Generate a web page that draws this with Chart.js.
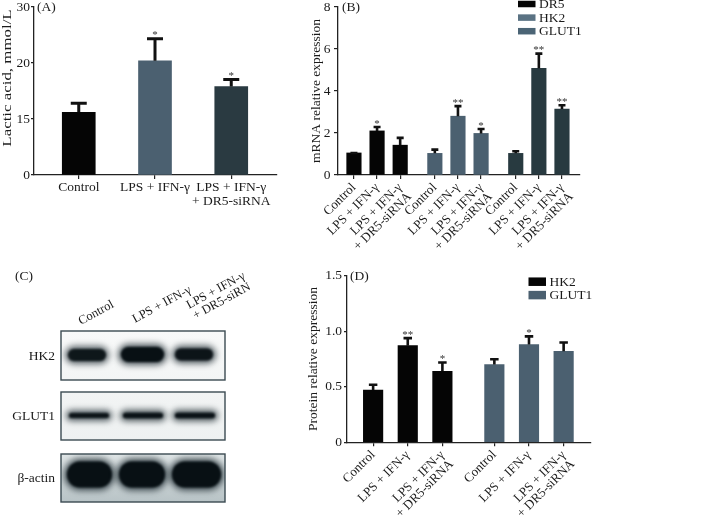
<!DOCTYPE html>
<html>
<head>
<meta charset="utf-8">
<script src="https://cdn.jsdelivr.net/npm/chart.js@4.4.1/dist/chart.umd.min.js"></script>
<style>
html, body { margin: 0; padding: 0; background: #fff; }
#wrap { position: relative; width: 708px; height: 523px; overflow: hidden; }
#wrap canvas { position: absolute; left: 0; top: 0; }
</style>
</head>
<body>
<div id="wrap">
  <canvas id="blot" width="708" height="523"></canvas>
  <canvas id="chartA" width="708" height="523"></canvas>
  <canvas id="chartB" width="708" height="523"></canvas>
  <canvas id="chartD" width="708" height="523"></canvas>
</div>
<script>
// ---- data ----
const groupLabels = ['Control', 'LPS + IFN-γ', ['LPS + IFN-γ', '+ DR5-siRNA']];

// (A) lactic acid, mmol/L (axis is drawn with equal steps between 0, 15, 20, 30)
const lacticMean = [15.6, 20.4, 17.9];
const lacticErr = [0.93, 4.2, 0.75];
const lacticStars = ['', '*', '*'];
const lacticTicks = [0, 15, 20, 30];

// (B) mRNA relative expression
const mrnaGenes = ['DR5', 'HK2', 'GLUT1'];
const dr5Mrna = [1.05, 2.10, 1.42];
const dr5MrnaErr = [0.06, 0.25, 0.41];
const dr5MrnaStars = ['', '*', ''];
const hk2Mrna = [1.03, 2.80, 1.98];
const hk2MrnaErr = [0.24, 0.54, 0.27];
const hk2MrnaStars = ['', '**', '*'];
const glut1Mrna = [1.03, 5.08, 3.14];
const glut1MrnaErr = [0.16, 0.76, 0.24];
const glut1MrnaStars = ['', '**', '**'];

// (D) protein relative expression
const proteinGenes = ['HK2', 'GLUT1'];
const hk2Protein = [0.47, 0.87, 0.64];
const hk2ProteinErr = [0.06, 0.08, 0.09];
const hk2ProteinStars = ['', '**', '*'];
const glut1Protein = [0.70, 0.88, 0.82];
const glut1ProteinErr = [0.06, 0.085, 0.09];
const glut1ProteinStars = ['', '*', ''];

// (C) western blot rows
const blotRows = ['HK2', 'GLUT1', 'β-actin'];

// ---- shared look ----
const INK = '#1a1a1a';
const SERIF = '"Liberation Serif", "Times New Roman", serif';
Chart.defaults.font.family = SERIF;
Chart.defaults.font.size = 13.5;
Chart.defaults.color = INK;
Chart.defaults.animation = false;
Chart.defaults.responsive = false;

// bars inside a group sit 1 apart, groups are 3.5 apart
const groupPos = (g, i) => g * 3.5 + i;

// lactic acid axis: equal spacing between the printed ticks
class SegmentScale extends Chart.LinearScale {
  getPixelForValue(value) {
    if (value === null || isNaN(value)) return NaN;
    const t = lacticTicks;
    let k = 0;
    while (k < t.length - 2 && value > t[k + 1]) k++;
    const d = (k + (value - t[k]) / (t[k + 1] - t[k])) / (t.length - 1);
    return this.getPixelForDecimal(d);
  }
}
SegmentScale.id = 'segment';
SegmentScale.defaults = Chart.LinearScale.defaults;
Chart.register(SegmentScale);

// error bars, stars, axis title, panel letter, legend
const extras = {
  id: 'extras',
  afterDatasetsDraw(chart, args, o) {
    const ctx = chart.ctx, ys = chart.scales.y;
    ctx.save();
    ctx.strokeStyle = '#111';
    ctx.lineWidth = o.errW;
    ctx.fillStyle = '#333';
    ctx.font = '11px ' + SERIF;
    ctx.textAlign = 'center';
    ctx.textBaseline = 'alphabetic';
    chart.data.datasets.forEach((ds, di) => {
      chart.getDatasetMeta(di).data.forEach((bar, i) => {
        const top = ys.getPixelForValue(ds.data[i].y + ds.errors[i]);
        const yc = top + o.errW / 2;
        ctx.beginPath();
        ctx.moveTo(bar.x, bar.y);
        ctx.lineTo(bar.x, yc);
        ctx.moveTo(bar.x - o.capW / 2, yc);
        ctx.lineTo(bar.x + o.capW / 2, yc);
        ctx.stroke();
        if (ds.stars[i]) ctx.fillText(ds.stars[i], bar.x, top + 1);
      });
    });
    ctx.restore();
  },
  afterDraw(chart, args, o) {
    const ctx = chart.ctx;
    ctx.save();
    ctx.fillStyle = INK;
    ctx.font = '13.5px ' + SERIF;
    ctx.textBaseline = 'middle';
    ctx.textAlign = 'left';
    ctx.fillText(o.letter, o.letterX, o.letterY);

    ctx.save();
    ctx.translate(o.titleX, o.titleY);
    ctx.rotate(-Math.PI / 2);
    ctx.scale(o.titleStretch || 1, 1);
    ctx.textAlign = 'center';
    ctx.fillText(o.title, 0, 0);
    ctx.restore();

    if (o.legend) {
      const L = o.legend;
      chart.data.datasets.forEach((ds, i) => {
        const y = L.y + i * L.dy;
        ctx.fillStyle = L.colors[i];
        ctx.fillRect(L.x, y - L.h / 2, L.w, L.h);
        ctx.fillStyle = INK;
        ctx.fillText(ds.label, L.x + L.w + 3.5, y + 0.5);
      });
    }
    ctx.restore();
  }
};

function axisStyle(tickLength) {
  return {
    grid: { display: true, drawOnChartArea: false, drawTicks: true, tickLength: tickLength, color: '#222', lineWidth: 1.2, offset: false },
    border: { display: true, color: '#222', width: 1.3 }
  };
}

function fixWidth(w) {
  return s => { s.width = w; s.paddingTop = 0; s.paddingBottom = 0; };
}
function fixHeight(h) {
  return s => { s.height = h; s.paddingLeft = 0; s.paddingRight = 0; };
}

// ---- (A) ----
new Chart(document.getElementById('chartA'), {
  type: 'bar',
  data: {
    datasets: [{
      label: 'Lactic acid',
      data: lacticMean.map((v, i) => ({ x: i, y: v })),
      errors: lacticErr,
      stars: lacticStars,
      backgroundColor: ['#050505', '#4b6070', '#2a3a41'],
      barThickness: 33
    }]
  },
  options: {
    layout: { padding: { left: 4, top: 7, right: 431, bottom: 308 } },
    plugins: {
      legend: { display: false }, tooltip: { enabled: false },
      extras: { errW: 3, capW: 16, letter: '(A)', letterX: 37, letterY: 7,
                title: 'Lactic acid, mmol/L', titleX: 7, titleY: 78, titleStretch: 1.25 }
    },
    scales: {
      x: Object.assign({
        type: 'linear', min: -0.587, max: 2.6, offset: false,
        afterBuildTicks: s => { s.ticks = groupLabels.map((l, i) => ({ value: i })); },
        afterFit: fixHeight(40),
        ticks: { autoSkip: false, maxRotation: 0, minRotation: 0, padding: 2,
                 font: { size: 13.5, lineHeight: 1.0 },
                 callback: v => groupLabels[v] }
      }, axisStyle(4)),
      y: Object.assign({
        type: 'segment', min: 0, max: 30,
        afterBuildTicks: s => { s.ticks = lacticTicks.map(v => ({ value: v })); },
        afterFit: fixWidth(30),
        ticks: { padding: 1 }
      }, axisStyle(3))
    }
  },
  plugins: [extras]
});

// ---- (B) ----
const bPositions = [];
mrnaGenes.forEach((g, gi) => groupLabels.forEach((l, i) => bPositions.push(groupPos(gi, i))));
const xLabelFor = v => groupLabels[Math.round(v - 3.5 * Math.floor(v / 3.5 + 1e-6))];

function seriesPoints(values, g) {
  return values.map((v, i) => ({ x: groupPos(g, i), y: v }));
}

new Chart(document.getElementById('chartB'), {
  type: 'bar',
  data: {
    datasets: [
      { label: mrnaGenes[0], data: seriesPoints(dr5Mrna, 0), errors: dr5MrnaErr, stars: dr5MrnaStars, backgroundColor: '#050505' },
      { label: mrnaGenes[1], data: seriesPoints(hk2Mrna, 1), errors: hk2MrnaErr, stars: hk2MrnaStars, backgroundColor: '#4b6070' },
      { label: mrnaGenes[2], data: seriesPoints(glut1Mrna, 2), errors: glut1MrnaErr, stars: glut1MrnaStars, backgroundColor: '#283a40' }
    ]
  },
  options: {
    datasets: { bar: { grouped: false, barThickness: 14.5 } },
    layout: { padding: { left: 298, top: 7, right: 128, bottom: 268 } },
    plugins: {
      legend: { display: false }, tooltip: { enabled: false },
      extras: { errW: 2.6, capW: 7, letter: '(B)', letterX: 342, letterY: 7,
                title: 'mRNA relative expression', titleX: 316, titleY: 91,
                legend: { x: 518, y: 4, dy: 13.6, w: 17.5, h: 6.5, colors: ['#050505', '#5a7283', '#4b6475'] } }
    },
    scales: {
      x: Object.assign({
        type: 'linear', min: -0.69, max: 9.78, offset: false,
        afterBuildTicks: s => { s.ticks = bPositions.map(v => ({ value: v })); },
        afterFit: fixHeight(80),
        ticks: { autoSkip: false, maxRotation: 45, minRotation: 45, padding: 2,
                 font: { size: 13, lineHeight: 1.0 }, callback: xLabelFor }
      }, axisStyle(4)),
      y: Object.assign({
        min: 0, max: 8,
        afterFit: fixWidth(40),
        ticks: { stepSize: 2, padding: 3.5 }
      }, axisStyle(4))
    }
  },
  plugins: [extras]
});

// ---- (D) ----
const dPositions = [];
proteinGenes.forEach((g, gi) => groupLabels.forEach((l, i) => dPositions.push(groupPos(gi, i))));

new Chart(document.getElementById('chartD'), {
  type: 'bar',
  data: {
    datasets: [
      { label: proteinGenes[0], data: seriesPoints(hk2Protein, 0), errors: hk2ProteinErr, stars: hk2ProteinStars, backgroundColor: '#050505' },
      { label: proteinGenes[1], data: seriesPoints(glut1Protein, 1), errors: glut1ProteinErr, stars: glut1ProteinStars, backgroundColor: '#4b6070' }
    ]
  },
  options: {
    datasets: { bar: { grouped: false, barThickness: 19.5 } },
    layout: { padding: { left: 307, top: 275.7, right: 117, bottom: 5.7 } },
    plugins: {
      legend: { display: false }, tooltip: { enabled: false },
      extras: { errW: 2.6, capW: 8.5, letter: '(D)', letterX: 350, letterY: 276.5,
                title: 'Protein relative expression', titleX: 313, titleY: 359,
                legend: { x: 528.5, y: 281.7, dy: 13.4, w: 17.5, h: 8.5, colors: ['#050505', '#4b6070'] } }
    },
    scales: {
      x: Object.assign({
        type: 'linear', min: -0.754, max: 6.29, offset: false,
        afterBuildTicks: s => { s.ticks = dPositions.map(v => ({ value: v })); },
        afterFit: fixHeight(75),
        ticks: { autoSkip: false, maxRotation: 45, minRotation: 45, padding: 2,
                 font: { size: 13, lineHeight: 1.0 }, callback: xLabelFor }
      }, axisStyle(4)),
      y: Object.assign({
        min: 0, max: 1.5,
        afterFit: fixWidth(40),
        ticks: { stepSize: 0.5, padding: 2, callback: v => (v === 0 ? '0' : v.toFixed(1)) }
      }, axisStyle(3))
    }
  },
  plugins: [extras]
});

// ---- (C) western blot picture ----
(function drawBlot() {
  const c = document.getElementById('blot').getContext('2d');
  c.save();
  c.beginPath();
  c.rect(0, 262, 250, 261);
  c.clip();

  c.fillStyle = INK;
  c.font = '13.5px ' + SERIF;
  c.textBaseline = 'middle';
  c.fillText('(C)', 15, 276.5);

  // lane headers
  c.font = '12.5px ' + SERIF;
  c.textBaseline = 'alphabetic';
  const headers = [
    { x: 81, y: 325, lines: [groupLabels[0]] },
    { x: 135, y: 323, lines: [groupLabels[1]] },
    { x: 189, y: 309, lines: groupLabels[2] }
  ];
  const ang = -0.5;
  headers.forEach(h => {
    h.lines.forEach((t, k) => {
      c.save();
      c.translate(h.x + k * 6.5, h.y + k * 10.5);
      c.rotate(ang);
      c.fillText(t, 0, 0);
      c.restore();
    });
  });

  const boxes = [
    { y1: 331, y2: 380, bg: ['#f8f9f9', '#f3f5f5'],
      bands: [[66, 108, 355, 15, 0.92], [119, 166, 354.5, 18, 1], [173, 215, 354.5, 15, 0.95]] },
    { y1: 392, y2: 440, bg: ['#f2f4f4', '#eef1f1'],
      bands: [[67, 111, 415.5, 8, 0.95], [121, 165, 415.5, 8.5, 0.97], [173, 217, 415.5, 8.5, 0.97]] },
    { y1: 454, y2: 502, bg: ['#dfe5e6', '#b8c3c6'],
      bands: [[65, 114, 474.5, 29, 1], [117, 167, 474.5, 29, 1], [170, 223, 474.5, 29, 1]] }
  ];

  boxes.forEach((b, r) => {
    const g = c.createLinearGradient(0, b.y1, 0, b.y2);
    g.addColorStop(0, b.bg[0]);
    g.addColorStop(1, b.bg[1]);
    c.fillStyle = g;
    c.fillRect(61, b.y1, 164, b.y2 - b.y1);

    c.save();
    c.beginPath();
    c.rect(61, b.y1, 164, b.y2 - b.y1);
    c.clip();
    b.bands.forEach(([x1, x2, yc, h, a]) => {
      c.filter = 'blur(3px)';
      c.fillStyle = 'rgba(20,34,40,' + (0.75 * a) + ')';
      c.beginPath();
      c.roundRect(x1 - 1, yc - h / 2 - 1.5, x2 - x1 + 2, h + 3, (h + 3) / 2);
      c.fill();
      c.filter = 'blur(1.2px)';
      c.fillStyle = 'rgba(8,16,20,' + a + ')';
      c.beginPath();
      c.roundRect(x1 + 2, yc - h / 2 + 1.5, x2 - x1 - 4, h - 3, (h - 3) / 2);
      c.fill();
    });
    c.filter = 'none';
    c.restore();

    c.strokeStyle = '#3b4a52';
    c.lineWidth = 1.4;
    c.strokeRect(61, b.y1, 164, b.y2 - b.y1);

    c.fillStyle = INK;
    c.font = '13.5px ' + SERIF;
    c.textAlign = 'right';
    c.textBaseline = 'middle';
    c.fillText(blotRows[r], 55, (b.y1 + b.y2) / 2 + 0.5);
    c.textAlign = 'left';
  });
  c.restore();
})();
</script>
</body>
</html>
